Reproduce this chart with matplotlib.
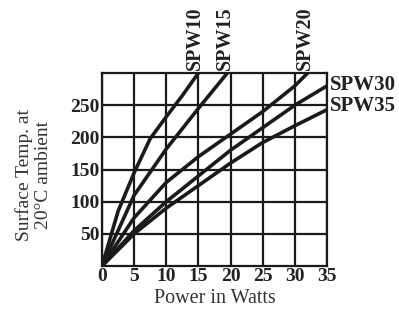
import numpy as np
import matplotlib.pyplot as plt

# curve data (watts, surface temp)
spw10_x = [0, 2.5, 5, 7.5, 10, 12.5, 15]
spw10_y = [0, 85, 145, 198, 232, 265, 300]
spw15_x = [0, 5, 10, 15, 19.5]
spw15_y = [0, 110, 182, 245, 300]
spw20_x = [0, 5, 10, 15, 20, 25, 30, 32]
spw20_y = [0, 75, 130, 170, 205, 240, 280, 300]
spw30_x = [0, 5, 10, 15, 20, 25, 30, 35]
spw30_y = [0, 55, 100, 140, 180, 215, 250, 280]
spw35_x = [0, 5, 10, 15, 20, 25, 30, 35]
spw35_y = [0, 50, 90, 125, 160, 192, 218, 243]

x_ticks = [0, 5, 10, 15, 20, 25, 30, 35]
y_ticks = [50, 100, 150, 200, 250]

plt.rcParams['font.family'] = ['Liberation Serif', 'DejaVu Serif']

fig = plt.figure(figsize=(3.99, 3.12), dpi=100)
ax = fig.add_axes([0.2556, 0.1474, 0.5639, 0.6186])

for xs, ys in [(spw10_x, spw10_y), (spw15_x, spw15_y), (spw20_x, spw20_y),
               (spw30_x, spw30_y), (spw35_x, spw35_y)]:
    ax.plot(xs, ys, color='#1a1a1a', lw=2.6, solid_capstyle='butt', clip_on=True)

ax.set_xlim(0, 35)
ax.set_ylim(0, 300)
ax.set_xticks(x_ticks)
ax.set_yticks(y_ticks)
ax.grid(True, color='#1a1a1a', lw=1.6)
ax.set_axisbelow(True)
for s in ax.spines.values():
    s.set_linewidth(1.6)
    s.set_color('#1a1a1a')
ax.tick_params(length=0, labelsize=14, pad=1.5)
for lab in ax.get_xticklabels() + ax.get_yticklabels():
    lab.set_fontweight('bold')
    lab.set_color('#222222')

ax.set_xlabel('Power in Watts', fontsize=14.5, color='#333333', labelpad=3)
fig.text(0.084, 0.439, 'Surface Temp. at\n20°C ambient', rotation=90,
         ha='center', va='center', fontsize=14, color='#333333', linespacing=1.15)

# series names
for name, xv in [('SPW10', 14.5), ('SPW15', 19.1), ('SPW20', 31.6)]:
    ax.text(xv, 305, name, rotation=90, ha='center', va='bottom',
            fontsize=14.5, fontweight='bold', color='#222222')
ax.text(35.5, 281, 'SPW30', ha='left', va='center', fontsize=15,
        fontweight='bold', color='#222222')
ax.text(35.5, 248, 'SPW35', ha='left', va='center', fontsize=15,
        fontweight='bold', color='#222222')

plt.savefig('out.png', dpi=100)
